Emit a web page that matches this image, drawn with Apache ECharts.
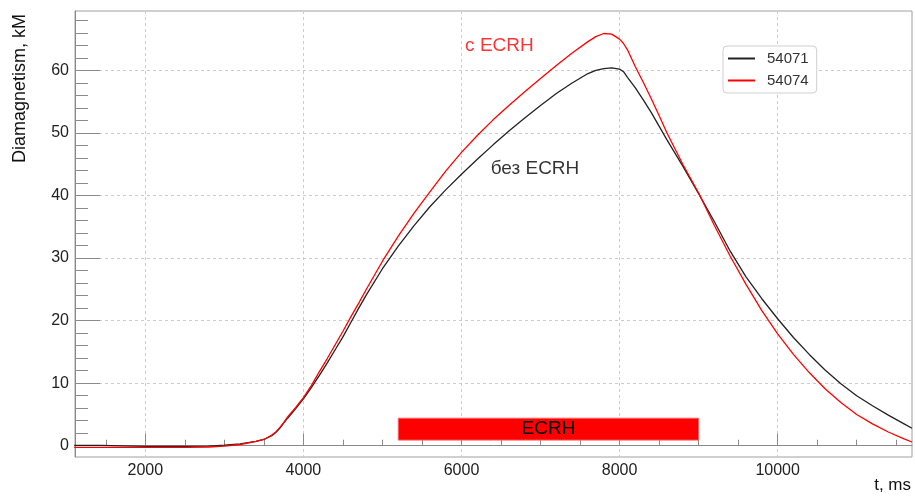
<!DOCTYPE html>
<html><head><meta charset="utf-8">
<script src="https://cdn.jsdelivr.net/npm/echarts@6/dist/echarts.min.js"></script>
<style>html,body{margin:0;padding:0;background:#fff}#c{width:915px;height:498px}</style>
</head><body><div id="c"></div>
<script>
const timeMs = [1100,1430,1440,2000,2500,2800,3000,3200,3400,3500,3600,3650,3700,3750,3800,3900,4000,4100,4200,4300,4400,4500,4600,4700,4800,5000,5200,5400,5600,5800,6000,6200,6400,6600,6800,7000,7200,7400,7600,7700,7800,7900,8000,8050,8100,8200,8300,8400,8500,8600,8800,9000,9200,9400,9600,9800,10000,10200,10400,10600,10800,11000,11200,11400,11600,11700];
const shot54071 = [0.05,0.05,-0.1,-0.1,-0.1,-0.05,0.1,0.3,0.7,1.0,1.6,2.1,2.8,3.6,4.4,5.9,7.5,9.3,11.2,13.2,15.3,17.4,19.7,22.0,24.2,28.3,31.9,35.2,38.2,40.9,43.4,45.8,48.1,50.3,52.4,54.4,56.3,58.0,59.5,60.0,60.3,60.4,60.2,59.8,58.9,57.2,55.3,53.3,51.1,48.9,44.7,40.3,35.8,31.1,27.0,23.5,20.3,17.3,14.6,12.1,9.9,8.0,6.4,4.9,3.5,2.8];
const shot54074 = [-0.25,-0.25,-0.25,-0.25,-0.25,-0.2,-0.05,0.2,0.7,1.0,1.7,2.2,2.9,3.7,4.6,6.1,7.7,9.6,11.8,13.9,16.1,18.3,20.6,22.8,25.1,29.5,33.5,37.2,40.6,43.9,46.9,49.6,52.1,54.4,56.6,58.7,60.8,62.8,64.6,65.4,65.9,65.8,65.0,64.3,63.3,60.6,58.1,55.5,52.8,50.0,45.0,40.4,35.2,30.3,25.8,21.6,17.9,14.6,11.7,9.1,6.9,5.0,3.5,2.2,1.1,0.6];
const seriesNames = ['54071','54074'];
const xMajorTicks = [2000,4000,6000,8000,10000];
const xMinorTicks = [1500,2500,3000,3500,4500,5000,5500,6500,7000,7500,8500,9000,9500,10500,11000,11500];
const yMajorTicks = [0,10,20,30,40,50,60];
const yMinorTicks = [2,4,6,8,12,14,16,18,22,24,26,28,32,34,36,38,42,44,46,48,52,54,56,58,62,64,66,68];
const ecrhStart = 5200, ecrhEnd = 9000;
const ecrhLow = 0.9, ecrhHigh = 4.4;
const annotationTexts = ['с ECRH','без ECRH'];
const annotationT = [6480, 6930];
const annotationV = [64.0, 44.3];

const FONT = 'Liberation Sans, Arial, Helvetica, sans-serif';
const X_MIN = 1110, X_MAX = 11700, Y_MIN = -1.8, Y_MAX = 69.5;
const zip = (a,b) => a.map((v,i)=>[v,b[i]]);

const chart = echarts.init(document.getElementById('c'), null, {renderer:'canvas'});
const tickColor = '#8a8a8a';
chart.setOption({
  animation:false,
  backgroundColor:'#fff',
  textStyle:{fontFamily:FONT},
  grid:{left:75,right:3,top:11,bottom:41,show:true,borderColor:'#a0a0a0',borderWidth:1,backgroundColor:'transparent'},
  legend:{
    data:seriesNames, orient:'vertical', left:723, top:46,
    padding:[5,8,5,5], itemGap:7, itemWidth:27, itemHeight:2, icon:'rect',
    backgroundColor:'#fff', borderColor:'#cfcfcf', borderWidth:1, borderRadius:4,
    textStyle:{fontSize:15, color:'#333', fontFamily:FONT, padding:[0,0,0,7]}
  },
  xAxis:[{
    type:'value', min:X_MIN, max:X_MAX,
    axisLine:{show:true,lineStyle:{color:tickColor}},
    axisTick:{show:true,inside:true,length:12,customValues:xMajorTicks,lineStyle:{color:tickColor}},
    axisLabel:{customValues:xMajorTicks,fontSize:16,color:'#222',margin:6,fontFamily:FONT,formatter:v=>String(v)},
    splitLine:{show:true,lineStyle:{type:[3,3],color:'#cccccc'}}
  },{
    type:'value', min:X_MIN, max:X_MAX, position:'bottom',
    axisLine:{show:false},
    axisTick:{show:true,inside:true,length:6,customValues:xMinorTicks,lineStyle:{color:tickColor}},
    axisLabel:{show:false}, splitLine:{show:false}
  }],
  yAxis:[{
    type:'value', min:Y_MIN, max:Y_MAX,
    axisLine:{show:true,lineStyle:{color:tickColor}},
    axisTick:{show:true,inside:true,length:25,customValues:yMajorTicks,lineStyle:{color:tickColor}},
    axisLabel:{customValues:yMajorTicks,fontSize:16,color:'#222',margin:6,fontFamily:FONT,formatter:v=>String(v)},
    splitLine:{show:true,lineStyle:{type:[3,3],color:'#cccccc'}}
  },{
    type:'value', min:Y_MIN, max:Y_MAX, position:'left',
    axisLine:{show:false},
    axisTick:{show:true,inside:true,length:13,customValues:yMinorTicks,lineStyle:{color:tickColor}},
    axisLabel:{show:false}, splitLine:{show:false}
  }],
  series:[
    {name:seriesNames[0], type:'line', data:zip(timeMs,shot54071), showSymbol:false, symbol:'none',
     smooth:false, color:'#222', lineStyle:{width:1.3,color:'#222'}, z:3,
     markArea:{silent:true, itemStyle:{color:'#ff0000', borderColor:'#ff6060', borderWidth:1},
       label:{show:true, position:'inside', color:'#000', fontSize:19, fontFamily:FONT},
       data:[[{name:'ECRH', xAxis:ecrhStart, yAxis:ecrhLow},{xAxis:ecrhEnd, yAxis:ecrhHigh}]]}},
    {name:seriesNames[1], type:'line', data:zip(timeMs,shot54074), showSymbol:false, symbol:'none',
     smooth:false, color:'#ff0000', lineStyle:{width:1.3,color:'#ff0000'}, z:4},
    {name:'notes', type:'scatter', silent:true, symbolSize:1, itemStyle:{color:'rgba(0,0,0,0)'},
     data:annotationT.map((t,i)=>({value:[t,annotationV[i]], label:{color:i===0?'#ff0000':'#000'}})),
     label:{show:true, position:'inside', fontSize:19, fontFamily:FONT,
       formatter:p=>annotationTexts[p.dataIndex]}}
  ],
  graphic:[
    {type:'text', x:20, y:14, rotation:Math.PI/2,
     style:{text:'Diamagnetism, kM', font:'18px '+FONT, fill:'#111', textAlign:'right', textVerticalAlign:'middle'}},
    {type:'text', right:4, bottom:4,
     style:{text:'t, ms', font:'17px '+FONT, fill:'#111'}}
  ]
});
</script></body></html>
